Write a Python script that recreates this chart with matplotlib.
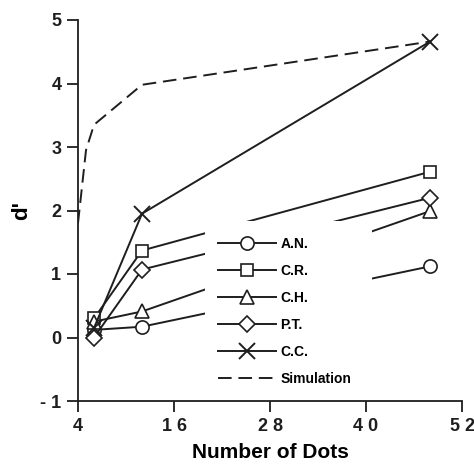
import numpy as np
import matplotlib
matplotlib.use("Agg")
import matplotlib.pyplot as plt
from matplotlib.patches import Rectangle

plt.rcParams['font.family'] = ['Liberation Sans', 'DejaVu Sans']
plt.rcParams['font.weight'] = 'bold'

# number of dots shown to the observers
dots = [6, 12, 48]

# d' for each observer
an = [0.12, 0.17, 1.12]
cr = [0.30, 1.37, 2.61]
ch = [0.25, 0.41, 1.99]
pt = [0.00, 1.07, 2.20]
cc = [0.15, 1.95, 4.66]

# ideal observer simulation
sim_dots = [4, 5, 6, 12, 48]
sim_d = [1.80, 2.95, 3.35, 3.98, 4.66]

xticks = [4, 16, 28, 40, 52]
xtick_labels = ['4', '1 6', '2 8', '4 0', '5 2']
yticks = [-1, 0, 1, 2, 3, 4, 5]
ytick_labels = ['- 1', '0', '1', '2', '3', '4', '5']

ink = '#1e1e1e'

fig = plt.figure(figsize=(4.74, 4.66), dpi=100)
ax = fig.add_axes([78 / 474, 1 - 401 / 466, 384 / 474, 381 / 466])

lw = 1.4
ms = 9.5
common = dict(color=ink, lw=lw, mfc='white', mec=ink, mew=1.2, ms=ms, zorder=3)
ax.plot(dots, an, marker='o', label='A.N.', **common)
ax.plot(dots, cr, marker='s', label='C.R.', **{**common, 'ms': 9})
ax.plot(dots, ch, marker='^', label='C.H.', **common)
ax.plot(dots, pt, marker='D', label='P.T.', **{**common, 'ms': 8})
ax.plot(dots, cc, marker='x', label='C.C.', **{**common, 'ms': 11, 'mew': 1.4})
ax.plot(sim_dots, sim_d, ls=(0, (7, 3.5)), color=ink, lw=lw,
        label='Simulation', zorder=3)

# the legend sits on a white patch that hides the lines behind it
ax.add_patch(Rectangle((205, 71), 167, 174, transform=None, fc='white',
                       ec='none', zorder=4))
leg = ax.legend(loc='upper left', bbox_to_anchor=(0.35, 0.446),
                frameon=False, fontsize=10, handlelength=4.2,
                handletextpad=0.3, labelspacing=0.94, borderaxespad=0)
leg.set_zorder(5)

ax.set_xlim(4, 52)
ax.set_ylim(-1, 5)
ax.set_xticks(xticks)
ax.set_xticklabels(xtick_labels)
ax.set_yticks(yticks)
ax.set_yticklabels(ytick_labels)
ax.tick_params(direction='out', length=8, width=1.3, colors=ink,
               labelsize=13, pad=4)
for side in ['top', 'right']:
    ax.spines[side].set_visible(False)
for side in ['left', 'bottom']:
    ax.spines[side].set_linewidth(1.3)
    ax.spines[side].set_color(ink)

ax.set_xlabel('Number of Dots', fontsize=15, fontweight='bold', labelpad=6)
ax.set_ylabel("d'", fontsize=16, fontweight='bold', labelpad=6)

fig.savefig('out.png', dpi=100)
